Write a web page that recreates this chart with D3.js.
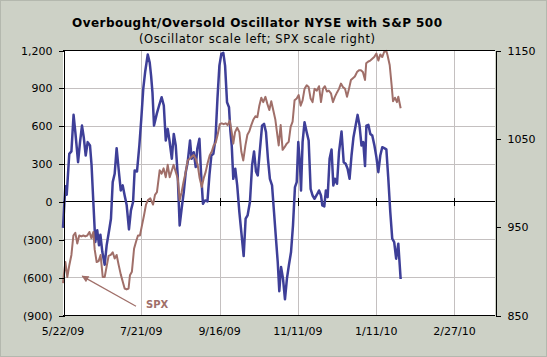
<!DOCTYPE html>
<html><head><meta charset="utf-8">
<script src="https://cdn.jsdelivr.net/npm/d3@7"></script>
<style>html,body{margin:0;padding:0;background:#cdd1c6;}svg{display:block;}</style>
</head><body>
<svg id="chart" width="547" height="357"></svg>
<script>
// ---- data ----
const titleText = "Overbought/Oversold Oscillator NYSE with S&P 500";
const subtitleText = "(Oscillator scale left; SPX scale right)";
const xTickIdx = [0, 40, 80, 120, 160, 200];
const xTickLabels = ["5/22/09", "7/21/09", "9/16/09", "11/11/09", "1/11/10", "2/27/10"];
const oscTicks = [-900, -600, -300, 0, 300, 600, 900, 1200];
const spxTicks = [850, 950, 1050, 1150];

// oscillator: trading-day index and value
const oscDay = [0,1.2,1.9,3.2,4.3,5.4,6.3,7.7,8.7,9.7,10.6,11.6,12.6,13.8,14.6,15.5,16.5,17.5,18.4,19.1,20.1,21.3,22.3,23.7,24.5,25.4,26.4,27.4,28.4,29.5,30.5,31.5,32.5,33.7,34.7,35.8,36.6,37.8,39,40,41,42,43.3,44.3,45,45.7,46.5,47.9,49.1,50.4,51.5,52.5,53.5,54.4,55.6,56.6,57.6,58.6,59.6,60.6,61.7,62.7,63.7,64.9,65.7,66.8,67.8,68.6,69.7,70.5,71.5,72.6,73.8,74.8,75.8,76.8,77.9,78.9,79.9,80.9,81.9,82.8,83.8,84.8,85.5,86.2,87,88,89,90.1,91.1,92.3,93.3,94.3,95.5,96.6,97.6,98.6,99.5,100.5,101.7,102.7,103.7,104.7,105.7,106.8,107.8,108.8,109.7,110.5,111.4,112.4,113.4,114.4,115.4,116.5,117.5,118.5,119.4,120.2,121.1,121.6,122.4,123.4,124.5,125.5,126.5,127.5,128.5,129.7,130.8,131.8,132.5,133.5,134.3,135.2,136.2,137.2,138.1,138.9,140,141,142.3,143.4,144.4,145.4,146.4,147.4,148.4,149.5,150.5,151.5,152.5,153.4,154.3,155,156,157,158,159.1,160.1,161.1,162.1,163.1,164.1,165.2,166.2,167.2,168.2,169.2,170.2,171.3,172.5];
const oscValue = [-210,121,53,377,396,686,549,311,470,601,509,364,470,443,285,-5,-322,-229,-348,-264,-401,-501,-348,-216,-137,153,219,422,259,87,127,47,-26,-222,-71,-5,245,237,443,654,892,1030,1165,1100,997,865,601,694,760,826,760,483,575,483,338,535,443,206,-190,-58,74,232,311,483,338,390,272,417,496,232,-18,8,0,206,364,377,496,813,1076,1169,1177,1076,786,747,560,443,179,259,127,-84,-243,-433,-137,-111,-5,285,396,237,206,390,601,615,549,338,179,127,-84,-295,-480,-712,-520,-612,-776,-612,-506,-401,-190,113,153,470,285,87,470,628,549,483,100,47,21,53,87,47,-32,-40,87,34,338,412,127,179,140,390,554,311,298,259,179,364,509,601,686,601,443,470,280,601,607,535,522,443,351,232,364,430,422,412,179,-84,-295,-322,-454,-335,-615];

// S&P 500: trading-day index and close
const spxDay = [0,1.2,2.2,3.2,4.3,5.3,6.3,7.3,8.3,9.4,10.4,11.4,12.4,13.5,14.5,15.5,16.2,17.2,18.2,19.2,20.3,21.3,22.3,23.3,24.4,25.4,26.4,27.4,28.4,29.5,30.5,31.5,32.5,33.5,34.2,35.2,36.3,37.3,38.3,39.3,40.4,41.4,42.4,43.4,44.6,46,47,48,49.4,50.4,51.4,52.5,53.5,54.5,55.5,56.5,57.6,58.6,59.6,60.6,61.6,62.7,63.7,64.7,65.7,66.8,67.8,68.8,69.8,70.9,71.9,72.9,73.9,75,76,77,78,79,80.1,81.1,82.1,83.1,84.1,85.2,86.2,87,87.9,89,90.1,91.1,92.1,93.2,94.2,95.2,96.2,97.2,98.3,99.3,100.3,101.3,102.3,103.4,104.4,105.4,106.4,107.4,108.5,109.3,110.2,111.2,112.2,113.2,114.3,115.3,116.3,117.3,118.3,119.4,120.4,121.4,122.4,123.4,124.5,125.5,126.5,127.5,128.5,129.7,130.8,131.8,132.8,133.8,134.8,135.8,136.9,137.9,138.9,140,141,142,143,144.1,145.1,146.1,147.1,148.1,149.1,150.2,151.2,152.2,153.2,154.3,154.9,156,157,158,159,160.1,161.1,162.1,163.1,164.1,165.2,165.8,166.9,167.9,168.6,169.6,170.6,171.3,172.5];
const spxValue = [886,910,893,906,918,940,943,931,940,939,940,939,940,944,937,944,924,910,911,918,893,893,905,917,918,921,914,918,907,896,888,880,879,880,895,899,925,933,940,940,952,963,975,980,982,975,986,989,1014,1010,1016,1006,1020,1006,1013,1020,1012,1005,980,989,1001,1012,1025,1027,1029,1031,1027,1020,1005,995,1005,1012,1022,1031,1035,1042,1045,1054,1066,1067,1066,1067,1065,1070,1057,1044,1057,1062,1057,1035,1025,1042,1054,1058,1065,1071,1075,1074,1087,1096,1091,1097,1089,1082,1092,1082,1071,1057,1042,1065,1037,1040,1044,1046,1063,1069,1093,1095,1099,1087,1093,1106,1110,1108,1095,1091,1106,1104,1109,1091,1106,1109,1103,1104,1101,1091,1097,1102,1106,1112,1108,1106,1097,1106,1116,1118,1120,1125,1127,1127,1125,1116,1135,1137,1138,1140,1142,1146,1138,1145,1142,1148,1149,1144,1133,1110,1092,1096,1091,1097,1084];

// annotation anchor (trading-day index, SPX level)
const arrowTip = [9.8, 894];
const arrowTail = [37.3, 860];
const arrowLabel = "SPX";

// ---- drawing ----
const svg = d3.select("#chart");
const W = 547, H = 357;
const m = {left: 63, right: 495, top: 50, bottom: 315};
const font = "'DejaVu Sans', Verdana, sans-serif";
const blue = "#3e3f98", brown = "#a06f69";

svg.append("rect").attr("x", 0.5).attr("y", 0.5).attr("width", W - 1).attr("height", H - 1)
  .attr("fill", "#cdd1c6").attr("stroke", "#b4b8ae");

const x = d3.scaleLinear().domain([0, 220.7]).range([m.left, m.right]);
const yL = d3.scaleLinear().domain([-900, 1200]).range([m.bottom, m.top]);
const yR = d3.scaleLinear().domain([850, 1150]).range([m.bottom, m.top]);

// plot area
svg.append("rect").attr("x", m.left).attr("y", m.top)
  .attr("width", m.right - m.left).attr("height", m.bottom - m.top).attr("fill", "#fff");

// gridlines
const grid = svg.append("g").attr("stroke", "#c4c0c0").attr("stroke-width", 1).attr("shape-rendering", "crispEdges");
oscTicks.filter(v => v !== 0 && v !== -900 && v !== 1200).forEach(v => {
  grid.append("line").attr("x1", m.left).attr("x2", m.right).attr("y1", Math.round(yL(v)) + 0.5).attr("y2", Math.round(yL(v)) + 0.5);
});
xTickIdx.filter(i => i > 0).forEach(i => {
  grid.append("line").attr("x1", Math.round(x(i)) + 0.5).attr("x2", Math.round(x(i)) + 0.5).attr("y1", m.top).attr("y2", m.bottom);
});

// zero line with cross ticks
const z = svg.append("g").attr("stroke", "#000").attr("shape-rendering", "crispEdges");
const y0 = Math.round(yL(0)) + 0.5;
z.append("line").attr("x1", m.left).attr("x2", m.right).attr("y1", y0).attr("y2", y0);
xTickIdx.filter(i => i > 0).forEach(i => {
  const xi = Math.round(x(i)) + 0.5;
  z.append("line").attr("x1", xi).attr("x2", xi).attr("y1", y0 - 4).attr("y2", y0 + 4);
});

// lines
const oscData = oscDay.map((d, i) => [d, oscValue[i]]);
const spxData = spxDay.map((d, i) => [d, spxValue[i]]);
svg.append("path").datum(oscData)
  .attr("d", d3.line().x(d => x(d[0])).y(d => yL(d[1])))
  .attr("fill", "none").attr("stroke", blue).attr("stroke-width", 2.5).attr("stroke-linejoin", "round");
svg.append("path").datum(spxData)
  .attr("d", d3.line().x(d => x(d[0])).y(d => yR(d[1])))
  .attr("fill", "none").attr("stroke", brown).attr("stroke-width", 2).attr("stroke-linejoin", "round");

// frame: top, bottom
const fr = svg.append("g").attr("stroke", "#000").attr("shape-rendering", "crispEdges");
fr.append("line").attr("x1", m.left).attr("x2", m.right).attr("y1", m.top + 0.5).attr("y2", m.top + 0.5);
fr.append("line").attr("x1", m.left).attr("x2", m.right).attr("y1", m.bottom + 0.5).attr("y2", m.bottom + 0.5);

// left axis
const axL = svg.append("g").attr("transform", `translate(${m.left + 0.5},0.5)`)
  .call(d3.axisLeft(yL).tickValues(oscTicks).tickSize(5).tickPadding(6)
    .tickFormat(v => v < 0 ? "(" + d3.format(",")(-v) + ")" : d3.format(",")(v)));
// right axis
const axR = svg.append("g").attr("transform", `translate(${m.right + 0.5},0.5)`)
  .call(d3.axisRight(yR).tickValues(spxTicks).tickSize(5).tickPadding(7).tickFormat(d3.format("d")));
[axL, axR].forEach(a => {
  a.select(".domain").attr("stroke", "#000").attr("shape-rendering", "crispEdges");
  a.selectAll(".tick line").attr("stroke", "#000").attr("shape-rendering", "crispEdges");
  a.selectAll("text").attr("font-family", font).attr("font-size", 11).attr("fill", "#000");
});

// x labels
svg.append("g").selectAll("text").data(xTickIdx).join("text")
  .attr("x", d => x(d)).attr("y", 335).attr("text-anchor", "middle")
  .attr("font-family", font).attr("font-size", 11).attr("fill", "#000")
  .text((d, i) => xTickLabels[i]);

// titles
svg.append("text").attr("x", 257).attr("y", 27).attr("text-anchor", "middle")
  .attr("font-family", font).attr("font-size", 12).attr("font-weight", "bold").attr("fill", "#000")
  .attr("textLength", 370).attr("lengthAdjust", "spacing").text(titleText);
svg.append("text").attr("x", 257).attr("y", 43).attr("text-anchor", "middle")
  .attr("font-family", font).attr("font-size", 11.5).attr("fill", "#000")
  .attr("textLength", 236).attr("lengthAdjust", "spacing").text(subtitleText);

// annotation
const defs = svg.append("defs");
defs.append("marker").attr("id", "ah").attr("viewBox", "0 0 10 10").attr("refX", 9).attr("refY", 5)
  .attr("markerWidth", 9).attr("markerHeight", 7).attr("markerUnits", "userSpaceOnUse").attr("orient", "auto")
  .append("path").attr("d", "M0,0 L10,5 L0,10 Z").attr("fill", brown);
svg.append("line")
  .attr("x1", x(arrowTail[0])).attr("y1", yR(arrowTail[1]))
  .attr("x2", x(arrowTip[0])).attr("y2", yR(arrowTip[1]))
  .attr("stroke", brown).attr("stroke-width", 1.2).attr("marker-end", "url(#ah)");
svg.append("text").attr("x", x(arrowTail[0]) + 10).attr("y", yR(arrowTail[1]) + 2)
  .attr("font-family", font).attr("font-size", 10).attr("font-weight", "bold").attr("fill", brown)
  .text(arrowLabel);
</script>
</body></html>
